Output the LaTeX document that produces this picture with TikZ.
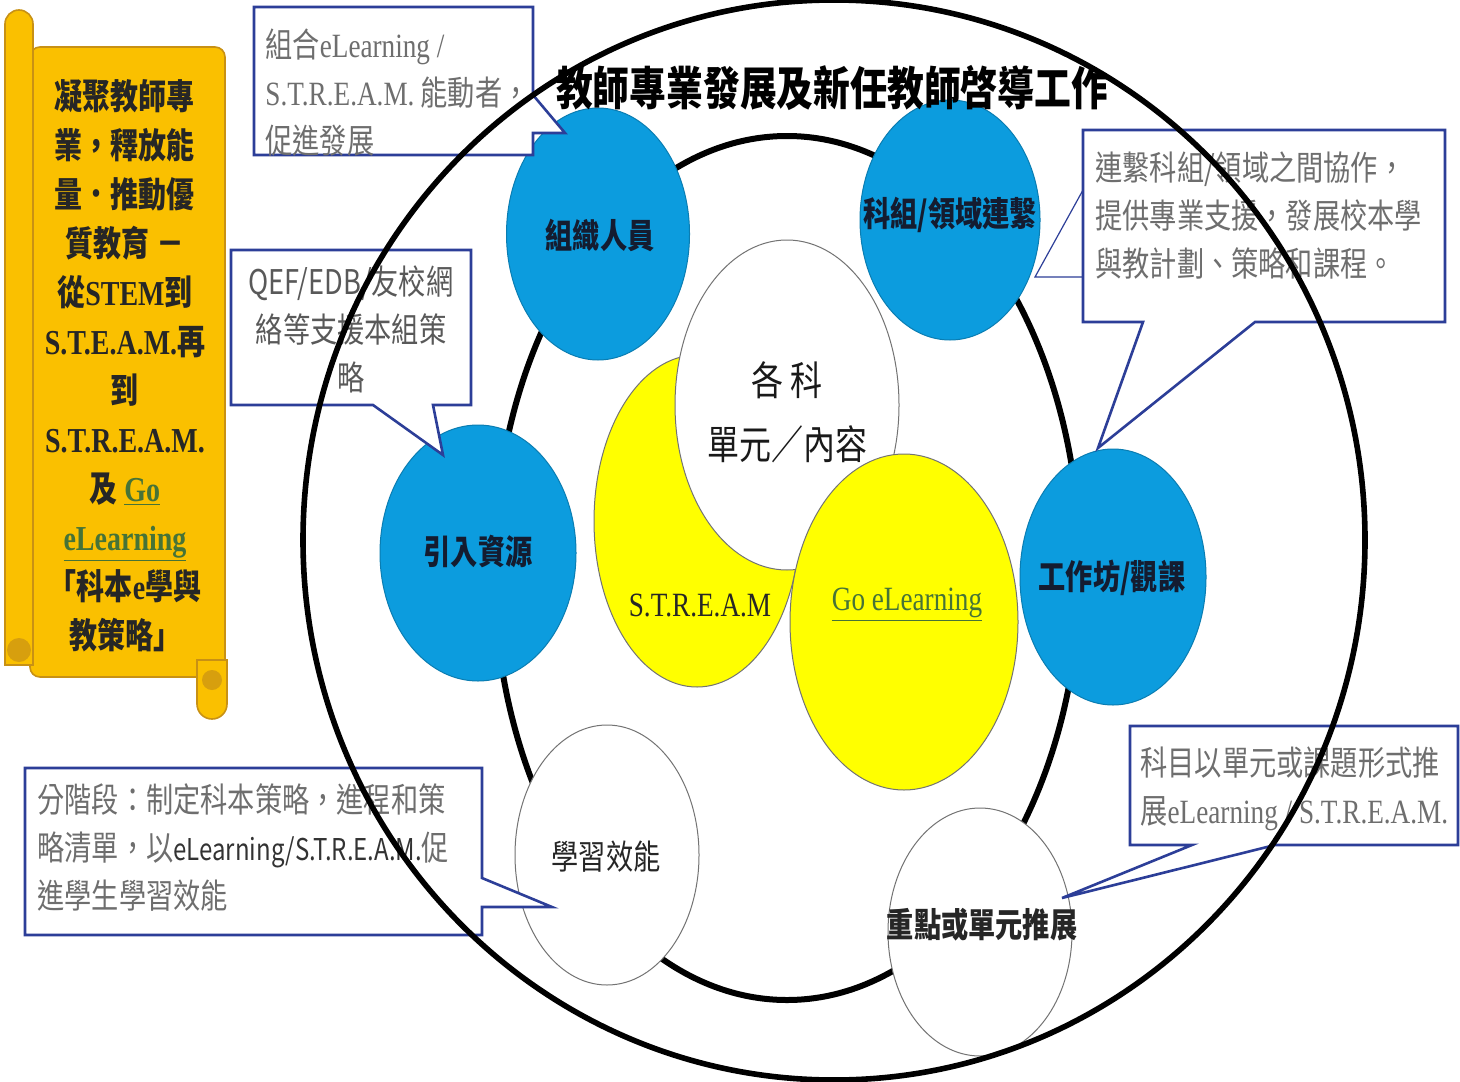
\documentclass[tikz,border=0pt]{standalone}
\usepackage{fontspec}
\setmainfont{Noto Sans CJK TC}[FakeStretch=0.8]
\newfontfamily\lat{Liberation Serif}[FakeStretch=0.8]
\usetikzlibrary{shapes.geometric}
\definecolor{cblue}{RGB}{12,156,222}
\definecolor{cyel}{RGB}{255,255,0}
\definecolor{cnavy}{RGB}{44,62,152}
\definecolor{cgray}{RGB}{110,110,110}
\definecolor{cgreen}{RGB}{70,115,55}
\definecolor{ctext}{RGB}{20,28,48}
\definecolor{sgold}{RGB}{250,192,0}
\definecolor{sdark}{RGB}{200,145,20}
\begin{document}
\begin{tikzpicture}[x=0.5pt,y=-0.5pt,
  bub/.style={ellipse, inner sep=0pt, line width=0.5pt},
  bluebub/.style={bub, fill=cblue, draw=cblue!80!black},
  whitebub/.style={bub, fill=white, draw=black!55},
  yelbub/.style={bub, fill=cyel, draw=black!55},
  bluelab/.style={font=\fontsize{17}{20}\selectfont\bfseries, text=ctext, inner sep=0pt},
  plainlab/.style={font=\fontsize{17}{20}\selectfont, text=black!85, inner sep=0pt},
  callout/.style={fill=white, draw=cnavy, line width=1.3pt, line join=miter},
  ctxt/.style={font=\fontsize{17}{24}\selectfont, text=cgray, inner sep=0pt, align=left, anchor=north west},
  scrollpart/.style={fill=sgold, draw=sdark, line width=0.8pt}
]
\useasboundingbox (0,0) rectangle (1460,1081);
\fill[white] (0,0) rectangle (1460,1081);

% inner ring
\draw[line width=3pt] (787,568) ellipse [x radius=146.5pt, y radius=216pt];

% central ellipses
\node[yelbub, minimum width=103pt, minimum height=166pt] (stream) at (697,521) {};
\node[whitebub, minimum width=112pt, minimum height=165pt] (subj) at (787,405) {};
\node[yelbub, minimum width=114pt, minimum height=168pt] (goel) at (904,622) {};
\node[font=\fontsize{20}{32}\selectfont, text=black!90, align=center, inner sep=0pt] (subjT) at (787,412) {各\,科\\單元／內容};
\node[plainlab, font=\lat\fontsize{17}{20}\selectfont] (streamT) at (700,605) {S.T.R.E.A.M};
\node[plainlab, font=\lat\fontsize{17}{20}\selectfont, text=cgreen] (goelT) at (907,605) {\underline{Go eLearning}};

% blue circles
\node[bluebub, minimum width=91.5pt, minimum height=126pt] (org) at (598,234) {};
\node[bluebub, minimum width=90pt, minimum height=120pt] (link) at (950,220) {};
\node[bluebub, minimum width=98pt, minimum height=128pt] (res) at (478,553) {};
\node[bluebub, minimum width=93pt, minimum height=128pt] (ws) at (1113,577) {};
\node[bluelab] (orgT) at (600,235) {組織人員};
\node[bluelab] (linkT) at (950,215) {科組/領域連繫};
\node[bluelab] (resT) at (478,552) {引入資源};
\node[bluelab] (wsT) at (1112,578) {工作坊/觀課};

% white circles
\node[whitebub, minimum width=92pt, minimum height=130pt] (eff) at (607,855) {};
\node[whitebub, minimum width=92pt, minimum height=124pt] (push) at (980,932) {};
\node[plainlab] (effT) at (606,857) {學習效能};
\node[plainlab, font=\fontsize{17}{20}\selectfont\bfseries] (pushT) at (982,925) {重點或單元推展};

% callouts
\path[callout] (254,7) -- (533,7) -- (533,95) -- (565,133) -- (533,133) -- (533,155) -- (254,155) -- cycle;
\node[ctxt] (c1) at (265,28) {組合{\lat eLearning /}\\{\lat S.T.R.E.A.M.} 能動者，\\促進發展};

\path[callout] (231,250) -- (471,250) -- (471,405) -- (433,405) -- (443,455) -- (373,405) -- (231,405) -- cycle;
\node[ctxt, anchor=north, align=center, text=black!65] (c2) at (351,265) {QEF/EDB/友校網\\絡等支援本組策\\略};

\path[callout] (1083,130) -- (1445,130) -- (1445,322) -- (1255,322) -- (1098,448) -- (1143,322) -- (1083,322) -- cycle;
\draw[cnavy, line width=0.6pt] (1083,190) -- (1035,277) -- (1083,277);
\node[ctxt] (c3) at (1095,151) {連繫科組/領域之間協作，\\提供專業支援，發展校本學\\與教計劃、策略和課程。};

\path[callout] (25,768) -- (482,768) -- (482,878) -- (552,907) -- (482,907) -- (482,935) -- (25,935) -- cycle;
\node[ctxt] (c4) at (37,783) {分階段：制定科本策略，進程和策\\略清單，以{\fontsize{15}{24}\selectfont\color{black!80}eLearning/S.T.R.E.A.M.}促\\進學生學習效能};

\path[callout] (1130,726) -- (1458,726) -- (1458,845) -- (1275,845) -- (1062,898) -- (1192,845) -- (1130,845) -- cycle;
\node[ctxt] (c5) at (1140,746) {科目以單元或課題形式推\\展{\lat eLearning / S.T.R.E.A.M.}};

% outer ring
\draw[line width=2.8pt] (834,540) ellipse [x radius=265.5pt, y radius=270pt];

% title
\node[font=\fontsize{23}{23}\selectfont\bfseries, inner sep=0pt] (title) at (832,88) {教師專業發展及新任教師啓導工作};

% scroll
\path[scrollpart, rounded corners=5pt] (30,47) rectangle (225,677);
\path[scrollpart] (33,665) -- (33,24) arc[start angle=0, end angle=180, radius=7pt] -- (5,665) -- cycle;
\path[fill=sdark!70!sgold] (19,650) circle[radius=6pt];
\path[scrollpart] (197,660) -- (197,704) arc[start angle=180, end angle=360, radius=7.5pt] -- (227,660) -- cycle;
\path[fill=sdark!70!sgold] (212,680) circle[radius=5pt];
\node[font=\fontsize{17.5}{24.5}\selectfont\bfseries, align=center, anchor=north, inner sep=0pt, text=black!85] (scrollT) at (125,79)
 {凝聚教師專\\業，釋放能\\量．推動優\\質教育 －\\從{\lat STEM}到\\{\lat S.T.E.A.M.}再\\到\\{\lat S.T.R.E.A.M.}\\及 {\lat\color{cgreen}\underline{Go}}\\{\lat\color{cgreen}\underline{eLearning}}\\「科本{\lat e}學與\\教策略」};
\end{tikzpicture}
\end{document}
